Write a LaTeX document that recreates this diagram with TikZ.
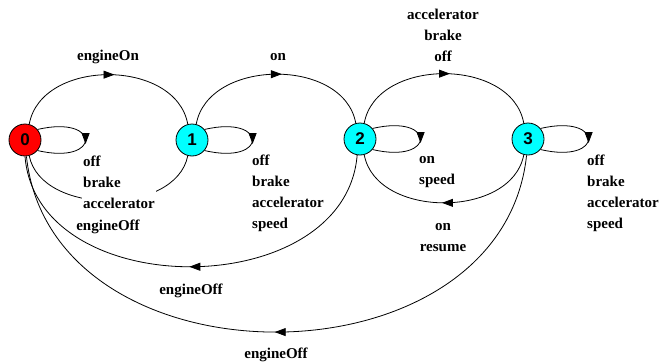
\documentclass[tikz,border=0pt]{standalone}
\usepackage{fontspec}
\setmainfont{Liberation Serif}
\newfontfamily\statefont{Liberation Sans}
\usetikzlibrary{arrows.meta,decorations.markings}
\definecolor{stred}{RGB}{255,0,0}
\definecolor{stcyan}{RGB}{0,255,255}
\tikzset{
  state/.style={circle, draw, line width=0.8pt, minimum size=32pt, inner sep=0pt,
    font=\statefont\bfseries\fontsize{17}{17}\selectfont},
  edge/.style={line width=0.8pt, postaction={decorate},
    decoration={markings, mark=at position 0.5 with
      {\arrow[xshift=#1]{Triangle[length=11pt,width=8pt]}}}},
  edge/.default=3pt,
  lbl/.style={font=\bfseries\fontsize{15}{21}\selectfont, inner sep=1.5pt},
  mask/.style={fill=white},
}
\begin{document}
\begin{tikzpicture}[x=1pt,y=-1pt]
\useasboundingbox (0,0) rectangle (664,364);

% states
\node[state, fill=stred]  (n0) at (25,140) {0};
\node[state, fill=stcyan] (n1) at (192,140) {1};
\node[state, fill=stcyan] (n2) at (360,139) {2};
\node[state, fill=stcyan] (n3) at (528,139) {3};

% forward transitions over the top
\draw[edge=6pt] (n0.75) .. controls +(12,-66) and +(-12,-66) .. (n1.105);
\draw[edge=6pt] (n1.75) .. controls +(12,-66) and +(-12,-66) .. (n2.105);
\draw[edge=6pt] (n2.75) .. controls +(12,-66) and +(-12,-66) .. (n3.105);

% backward transitions underneath
\draw[edge=2pt] (n3.255) .. controls +(-12,64) and +(12,64) .. (n2.285);
\draw[edge=2pt] (n1.255) .. controls +(-12,60) and +(12,60) .. (n0.285);
\draw[edge=2pt] (n2.260) .. controls +(-12,148) and +(12,148) .. (n0.270);
\draw[edge=2pt] (n3.265) .. controls +(-25,235) and +(25,235) .. (n0.275);

% self loops
\foreach \s in {n0,n1,n2,n3}
  \draw[edge=4pt] (\s.40) .. controls +(64,-15) and +(64,15) .. (\s.-40);

% transition labels
\node[lbl] (lOn01) at (108,57) {engineOn};
\node[lbl] (lOn12) at (278,57) {on};
\node[lbl, align=center] (l23) at (443,35) {accelerator\\brake\\off};
\node[lbl, align=center] (l32) at (443,238) {on\\resume};
\node[lbl] (l20) at (191,291) {engineOff};
\node[lbl] (l30) at (276,355) {engineOff};

% self-loop labels
\node[lbl, mask, align=left, anchor=west] (l00) at (81.5,182.5) {off\\brake\\accelerator};
\node[lbl, mask] (l10) at (108,227) {engineOff};
\node[lbl, align=left, anchor=west] (l11) at (250.5,193) {off\\brake\\accelerator\\speed};
\node[lbl, align=left, anchor=west] (l22) at (417.5,172.5) {on\\speed};
\node[lbl, align=left, anchor=west] (l33) at (585.5,193) {off\\brake\\accelerator\\speed};
\end{tikzpicture}
\end{document}
